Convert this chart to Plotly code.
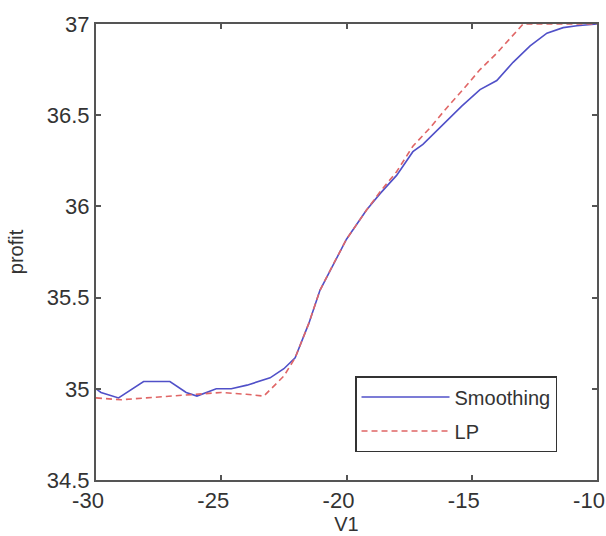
import plotly.graph_objects as go

smooth_x = [-30, -29.8, -29.1, -28.1, -27.05, -26.4, -25.97, -25.2, -24.6, -23.97, -23.05, -22.5, -22.05,
            -21.5, -21.06, -20.5, -20.0, -19.2, -18.66, -18.0, -17.35, -16.95, -16.0, -15.4, -14.67, -14.0,
            -13.35, -12.67, -12.0, -11.35, -10.8, -10.0]
smooth_y = [35.0, 34.98, 34.95, 35.04, 35.04, 34.98, 34.96, 35.0, 35.0, 35.02, 35.06, 35.11, 35.17,
            35.36, 35.54, 35.69, 35.82, 35.98, 36.07, 36.17, 36.30, 36.34, 36.47, 36.55, 36.64, 36.69,
            36.79, 36.88, 36.95, 36.98, 36.99, 37.0]

lp_x = [-30, -29.0, -28.0, -27.0, -26.0, -25.0, -24.0, -23.3, -22.5, -22.05, -21.5, -21.06, -20.5,
        -20.0, -19.2, -18.66, -18.0, -17.35, -16.67, -16.0, -15.35, -14.67, -14.0, -13.35, -12.95,
        -12.0, -11.0, -10.0]
lp_y = [34.95, 34.94, 34.95, 34.96, 34.97, 34.98, 34.97, 34.96, 35.07, 35.17, 35.36, 35.54, 35.69,
        35.82, 35.98, 36.08, 36.19, 36.33, 36.43, 36.54, 36.64, 36.75, 36.84, 36.94, 37.0,
        37.0, 37.0, 37.0]

x_ticks = [-30, -25, -20, -15, -10]
y_ticks = [34.5, 35, 35.5, 36, 36.5, 37]
y_tick_text = ["34.5", "35", "35.5", "36", "36.5", "37"]

font_family = "Liberation Sans, Arial, sans-serif"

fig = go.Figure()
fig.add_trace(go.Scatter(x=smooth_x, y=smooth_y, mode="lines", name="Smoothing", legendgroup="s",
                         line=dict(color="#5050c8", width=1.6)))
fig.add_trace(go.Scatter(x=lp_x, y=lp_y, mode="lines", name="LP", legendgroup="l",
                         line=dict(color="#e06666", width=1.6, dash="6px,4px")))

axis_common = dict(showline=True, linecolor="#555555", linewidth=2, mirror="ticks",
                   ticks="inside", ticklen=5, tickwidth=1.5, tickcolor="#555555",
                   showgrid=False, zeroline=False, ticklabeloverflow="allow", automargin=False,
                   tickfont=dict(family=font_family, size=22, color="#333333"))

fig.update_xaxes(range=[-30, -10], tickvals=x_ticks, ticktext=[str(v) for v in x_ticks],
                 ticklabelshift=-8,
                 title=dict(text="V1", font=dict(family=font_family, size=20, color="#333333"), standoff=4),
                 **axis_common)
fig.update_yaxes(range=[34.5, 37], tickvals=y_ticks, ticktext=y_tick_text,
                 title=dict(text="profit", font=dict(family=font_family, size=20, color="#333333"), standoff=18),
                 **axis_common)

fig.update_layout(
    width=606, height=536,
    margin=dict(l=96, r=9, t=24, b=56),
    paper_bgcolor="white", plot_bgcolor="white",
    legend=dict(x=0.517, y=0.228, xanchor="left", yanchor="top",
                bordercolor="#333333", borderwidth=1.5, bgcolor="white",
                font=dict(family=font_family, size=20, color="#333333"),
                itemwidth=88, tracegroupgap=5),
    showlegend=True,
)

fig.write_html("out.html")
